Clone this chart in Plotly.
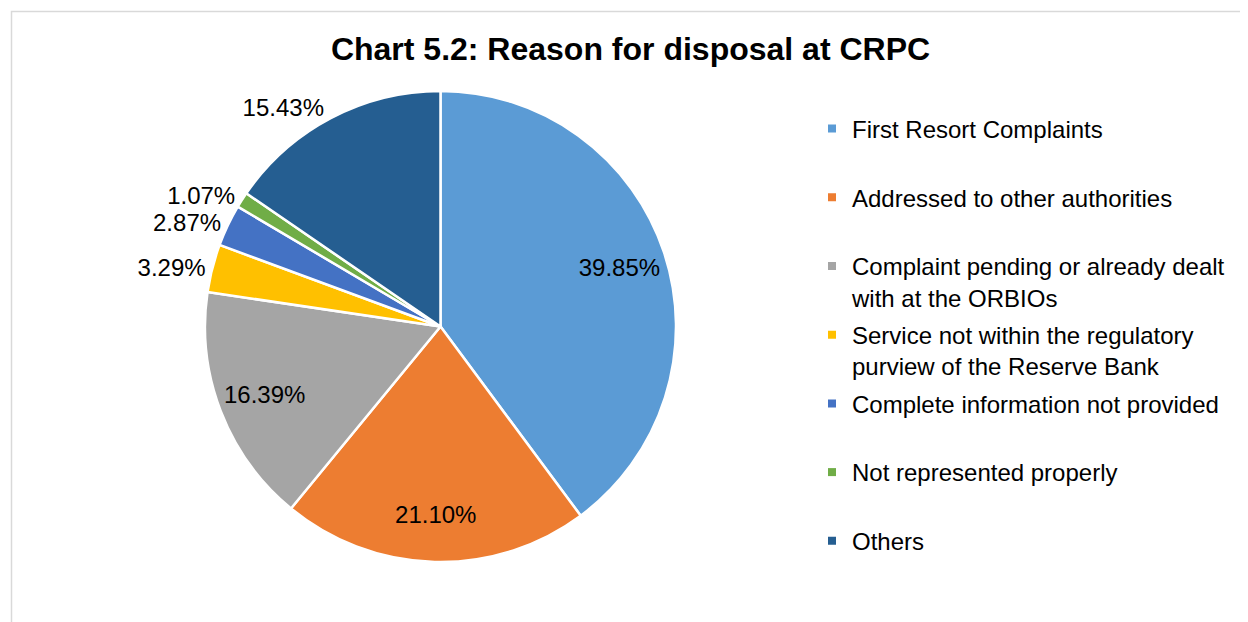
import plotly.graph_objects as go

labels = ["First Resort Complaints",
          "Addressed to other authorities",
          "Complaint pending or already dealt<br>with at the ORBIOs",
          "Service not within the regulatory<br>purview of the Reserve Bank",
          "Complete information not provided",
          "Not represented properly",
          "Others"]
shares = [39.85, 21.10, 16.39, 3.29, 2.87, 1.07, 15.43]
colors = ["#5B9BD5", "#ED7D31", "#A5A5A5", "#FFC000", "#4472C4", "#70AD47", "#255E91"]
text_pos = ["inside", "inside", "inside", "outside", "outside", "outside", "outside"]

W, H = 1248, 622
OFF = 8  # page body margin in the browser
FONT = "Liberation Sans, Arial, sans-serif"

pie_dom = dict(x=[(205 - OFF) / W, (676 - OFF) / W],
               y=[1 - (562 - OFF) / H, 1 - (91 - OFF) / H])

fig = go.Figure()
# coloured slices
fig.add_trace(go.Pie(
    labels=labels, values=shares, sort=False, direction="clockwise", rotation=0,
    marker=dict(colors=colors, line=dict(color="white", width=2.5)),
    textinfo="none", showlegend=False, hoverinfo="label+value",
    domain=pie_dom,
))


def label_ring(positions):
    # transparent ring on top that only carries value labels (hole pushes inside labels outward)
    return go.Pie(
        labels=labels, values=shares, sort=False, direction="clockwise", rotation=0,
        hole=0.6,
        marker=dict(colors=["rgba(0,0,0,0)"] * len(shares), line=dict(width=0)),
        texttemplate="%{value:.2f}%", textposition=positions,
        insidetextorientation="horizontal",
        textfont=dict(family=FONT, size=24, color="black"),
        showlegend=False, hoverinfo="skip",
        domain=pie_dom,
    )


# the 1.07% label goes in its own ring so it is not nudged (and given a leader line)
small = labels.index("Not represented properly")
fig.add_trace(label_ring([p if i != small else "none" for i, p in enumerate(text_pos)]))
fig.add_trace(label_ring([p if i == small else "none" for i, p in enumerate(text_pos)]))

# legend entries: one legend per item so the rows sit evenly like the original
legend_cfg = {}
for i, (lab, col) in enumerate(zip(labels, colors)):
    key = "legend" if i == 0 else f"legend{i + 1}"
    fig.add_trace(go.Scatter(x=[None], y=[None], mode="markers", name=lab,
                             marker=dict(symbol="square", size=8, color=col),
                             legend=key))
    top = 98.5 + i * 68.7
    legend_cfg[key] = dict(x=(812 - OFF) / W, y=1 - top / H, xanchor="left", yanchor="top",
                           valign="top", bgcolor="rgba(0,0,0,0)",
                           font=dict(family=FONT, size=24, color="black"))

fig.update_layout(
    width=W, height=H,
    margin=dict(l=0, r=0, t=0, b=0),
    paper_bgcolor="white", plot_bgcolor="white",
    title=dict(text="Chart 5.2: Reason for disposal at CRPC",
               x=(630.5 - OFF) / W, xanchor="center", y=1 - (49 - OFF) / H, yanchor="middle",
               font=dict(family=FONT, size=32, color="black", weight="bold")),
    xaxis=dict(visible=False), yaxis=dict(visible=False),
    shapes=[dict(type="rect", xref="paper", yref="paper",
                 x0=(11.5 - OFF) / W, x1=1.05, y0=-0.05, y1=1 - (11.5 - OFF) / H,
                 line=dict(color="#D9D9D9", width=1.5), fillcolor="rgba(0,0,0,0)",
                 layer="below")],
    **legend_cfg,
)

fig.write_html("out.html")
